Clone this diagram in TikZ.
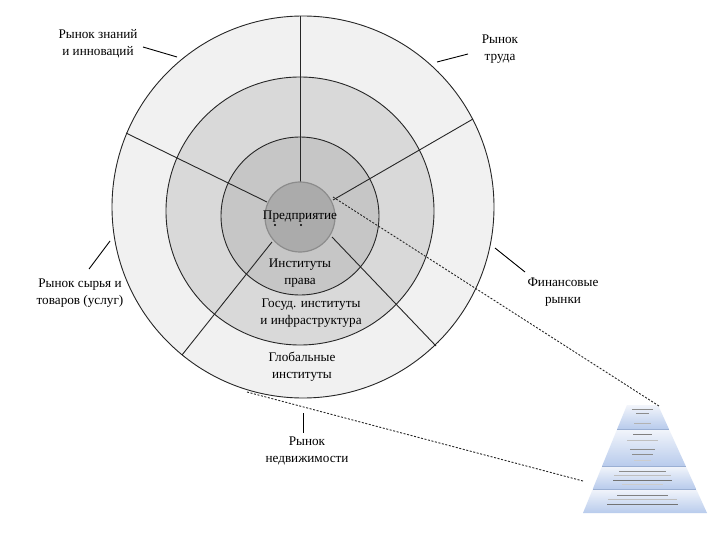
\documentclass[tikz,border=0pt]{standalone}
\usepackage{fontspec}
\setmainfont{Liberation Serif}
\begin{document}
\begin{tikzpicture}[x=1pt,y=-1pt,
  lbl/.style={font=\fontsize{13.2}{16.8}\selectfont, align=center, inner sep=0pt, text=black},
  ring/.style={draw=black!85, line width=0.9pt},
  radial/.style={draw=black!85, line width=0.9pt},
  leader/.style={draw=black, line width=0.9pt},
  dotline/.style={draw=black!85, line width=0.9pt, dash pattern=on 2pt off 1.6pt},
  pyrtxt/.style={draw=#1, line width=0.9pt},
]
\definecolor{ringA}{HTML}{F1F1F1}
\definecolor{ringB}{HTML}{D9D9D9}
\definecolor{ringC}{HTML}{C6C6C6}
\definecolor{core}{HTML}{ABABAB}
\definecolor{pyrTop}{HTML}{F2F5FB}
\definecolor{pyrBot}{HTML}{B8CBEC}
\definecolor{pyrLine}{HTML}{9AAFD3}
\useasboundingbox (0,0) rectangle (720,540);
\fill[white] (0,0) rectangle (720,540);

% rings
\fill[ringA, ring] (303,207) circle[radius=191pt];
\fill[ringB, ring] (300,211) circle[radius=134pt];
\fill[ringC, ring] (300,216) circle[radius=79pt];

% radial points
\coordinate (o1) at (300,16);  \coordinate (i1) at (300,182);
\coordinate (o2) at (126,133); \coordinate (i2) at (267,202);
\coordinate (o3) at (473,119); \coordinate (i3) at (333,200);
\coordinate (o4) at (182,355); \coordinate (i4) at (272,242);
\coordinate (o5) at (436,346); \coordinate (i5) at (332,237);
\draw[radial] (o1) -- (i1);
\draw[radial] (o2) -- (i2);
\draw[radial] (o3) -- (i3);
\draw[radial] (o4) -- (i4);
\draw[radial] (o5) -- (i5);

% core
\node[circle, fill=core, draw=black!45, line width=1.2pt, minimum size=70pt, inner sep=0pt] (core) at (300,217) {};
\node[lbl] (pred) at (300,217) {Предприятие};
\fill[black] (275,225) circle[radius=1.2pt];
\fill[black] (301,225) circle[radius=1.2pt];

% inner labels
\node[lbl] (prava) at (300,273) {Институты\\права};
\node[lbl] (gos) at (311,313) {Госуд. институты\\и инфраструктура};
\node[lbl] (glob) at (302,367) {Глобальные\\институты};

% pyramid
\coordinate (pTL) at (627,405); \coordinate (pTR) at (658,405);
\coordinate (pBL) at (583,513); \coordinate (pBR) at (707,513);
\coordinate (a1) at (617.2,429); \coordinate (b1) at (668.9,429);
\coordinate (a2) at (602.1,466); \coordinate (b2) at (685.7,466);
\coordinate (a3) at (592.8,489); \coordinate (b3) at (696.1,489);
\shade[top color=pyrTop, bottom color=pyrBot] (pTL) -- (pTR) -- (b1) -- (a1) -- cycle;
\shade[top color=pyrTop, bottom color=pyrBot] (a1) -- (b1) -- (b2) -- (a2) -- cycle;
\shade[top color=pyrTop, bottom color=pyrBot] (a2) -- (b2) -- (b3) -- (a3) -- cycle;
\shade[top color=pyrTop, bottom color=pyrBot] (a3) -- (b3) -- (pBR) -- (pBL) -- cycle;
\draw[pyrLine, line width=0.6pt] (a1) -- (b1) (a2) -- (b2) (a3) -- (b3);
% blurred tiny text of the pyramid
\draw[pyrtxt=black!45] (632,409) -- (653,409);
\draw[pyrtxt=black!45] (636,413) -- (649,413);
\draw[pyrtxt=black!30] (634,423) -- (651,423);
\draw[pyrtxt=black!50] (633,434) -- (652,434);
\draw[pyrtxt=black!25] (627,440) -- (658,440);
\draw[pyrtxt=black!45] (630,449) -- (655,449);
\draw[pyrtxt=black!45] (632,454) -- (653,454);
\draw[pyrtxt=black!20] (634,460) -- (651,460);
\draw[pyrtxt=black!45] (619,471) -- (666,471);
\draw[pyrtxt=black!25] (614,475) -- (671,475);
\draw[pyrtxt=black!55] (613,480) -- (672,480);
\draw[pyrtxt=black!20] (622,484) -- (663,484);
\draw[pyrtxt=black!50] (617,495) -- (668,495);
\draw[pyrtxt=black!25] (608,499) -- (677,499);
\draw[pyrtxt=black!55] (607,504) -- (678,504);

% dotted projection lines
\coordinate (d1s) at (333,197); \coordinate (d1e) at (659,406);
\coordinate (d2s) at (247,392); \coordinate (d2e) at (583,481);
\draw[dotline] (d1s) -- (d1e);
\draw[dotline] (d2s) -- (d2e);

% outer labels
\node[lbl] (znan) at (98,44) {Рынок знаний\\и инноваций};
\coordinate (l1a) at (143,47); \coordinate (l1b) at (177,57);
\draw[leader] (l1a) -- (l1b);

\node[lbl] (trud) at (500,49) {Рынок\\труда};
\coordinate (l2a) at (468,54); \coordinate (l2b) at (437,62);
\draw[leader] (l2a) -- (l2b);

\node[lbl] (syr) at (80,293) {Рынок сырья и\\товаров (услуг)};
\coordinate (l3a) at (110,241); \coordinate (l3b) at (89,269);
\draw[leader] (l3a) -- (l3b);

\node[lbl] (fin) at (563,292) {Финансовые\\рынки};
\coordinate (l4a) at (495,248); \coordinate (l4b) at (525,272);
\draw[leader] (l4a) -- (l4b);

\node[lbl] (ned) at (307,451) {Рынок\\недвижимости};
\coordinate (l5a) at (303,413); \coordinate (l5b) at (303,433);
\draw[leader] (l5a) -- (l5b);
\end{tikzpicture}
\end{document}
